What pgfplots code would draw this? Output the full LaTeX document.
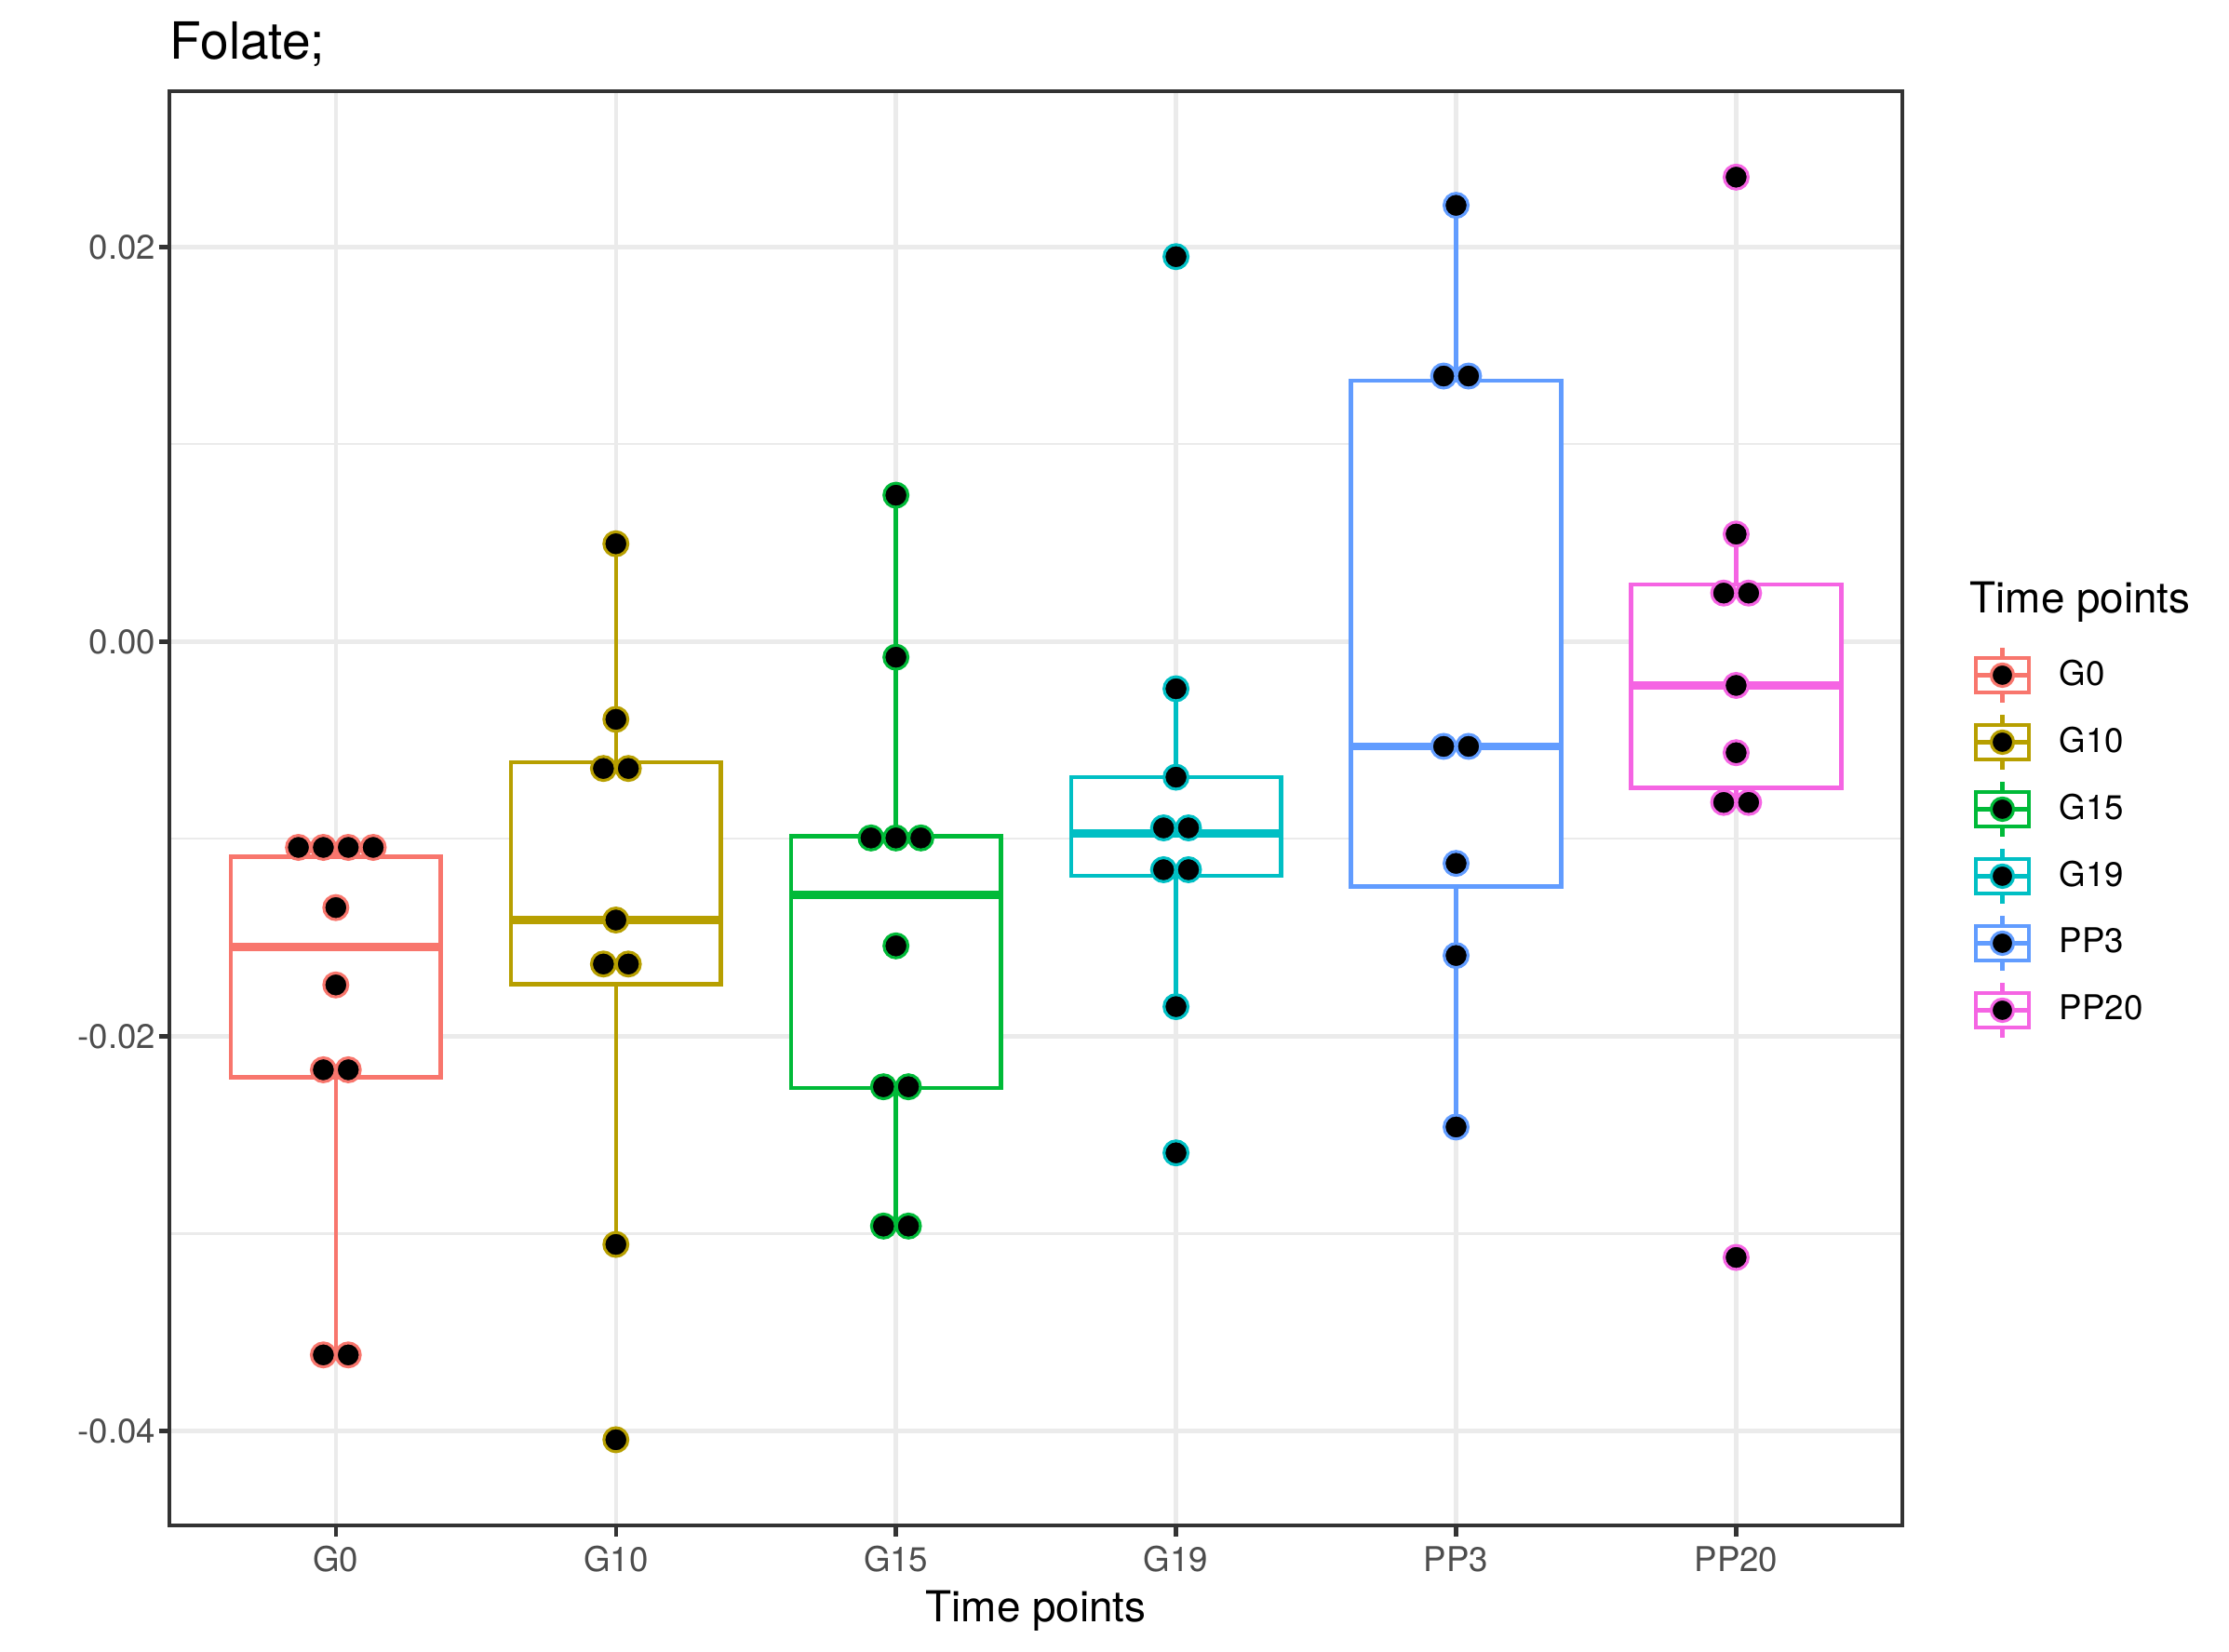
\documentclass[border=0pt]{standalone}
\usepackage{fontspec}
\setmainfont{TeX Gyre Heros}
\usepackage{pgfplots}
\pgfplotsset{compat=1.18}
\definecolor{c1}{HTML}{F8766D}
\definecolor{c2}{HTML}{B79F00}
\definecolor{c3}{HTML}{00BA38}
\definecolor{c4}{HTML}{00BFC4}
\definecolor{c5}{HTML}{619CFF}
\definecolor{c6}{HTML}{F564E3}
\definecolor{gridgray}{HTML}{EBEBEB}
\definecolor{grey20}{HTML}{333333}
\definecolor{grey30}{HTML}{4D4D4D}
\newcommand{\legbox}[1]{%
  \path[draw=none, fill=none] (0bp,-8.64bp) rectangle (17.28bp,8.64bp);
  \draw[#1, line width=1.07bp, fill=white] (1.84bp,-4.45bp) rectangle (15.44bp,4.45bp);
  \draw[#1, line width=1.07bp] (8.64bp,4.45bp)--(8.64bp,7bp) (8.64bp,-4.45bp)--(8.64bp,-7bp) (1.84bp,0bp)--(15.44bp,0bp);
  \draw[#1, fill=black, line width=0.75bp] (8.64bp,0bp) circle (2.9bp);
}
\pgfplotsset{
  bx/.style={draw=#1, line width=1.07bp, fill=white, forget plot, no marks, line join=miter},
  wh/.style={draw=#1, line width=1.07bp, forget plot, no marks},
  md/.style={draw=#1, line width=2.13bp, forget plot, no marks},
  dots/.style={only marks, mark=*, mark size=3.1bp, forget plot,
    mark options={draw=#1, fill=black, line width=0.75bp}}
}
\begin{document}
\begin{tikzpicture}
\useasboundingbox (0,0) rectangle (574.8bp,425.8bp);
\begin{axis}[
  at={(43.7bp,32.4bp)}, anchor=south west,
  width=446.9bp, height=369.9bp, scale only axis,
  xmin=0.406, xmax=6.594, ymin=-0.0448, ymax=0.0279,
  xtick={1,2,3,4,5,6}, xticklabels={G0,G10,G15,G19,PP3,PP20},
  ytick={-0.04,-0.02,0,0.02}, yticklabels={-0.04,-0.02,0.00,0.02},
  minor ytick={-0.03,-0.01,0.01},
  scaled y ticks=false,
  grid=both,
  major grid style={color=gridgray, line width=1.07bp},
  minor grid style={color=gridgray, line width=0.53bp},
  axis line style={color=grey20, line width=1.07bp},
  major tick style={color=grey20, line width=1.07bp},
  tick align=outside, major tick length=2.75bp, minor tick length=0pt,
  xtick pos=bottom, ytick pos=left,
  xticklabel style={font=\fontsize{8.8bp}{10bp}\selectfont, text=grey30, anchor=base, inner sep=0pt, yshift=-9.2bp},
  yticklabel style={font=\fontsize{8.8bp}{10bp}\selectfont, text=grey30, anchor=east, inner sep=0pt, xshift=-0.65bp},
  xlabel={Time points},
  xlabel style={font=\fontsize{11bp}{13bp}\selectfont, at={(axis description cs:0.5,0)}, anchor=base, inner sep=0pt, yshift=-24.7bp},
  title={Folate;},
  title style={font=\fontsize{13.2bp}{15bp}\selectfont, at={(axis description cs:0,1)}, anchor=base west, inner sep=0pt, yshift=2.2bp},
  legend style={at={(axis description cs:1.0383,0.6162)}, anchor=north west, draw=none, fill=none,
    inner sep=0pt, outer sep=0pt, row sep=0pt, column sep=6.1bp,
    font=\fontsize{8.8bp}{10bp}\selectfont, nodes={inner sep=0pt}},
  legend cell align=left,
]
% G0
\addplot[wh=c1] coordinates {(1,-0.01091) (1,-0.01043)};
\addplot[wh=c1] coordinates {(1,-0.02209) (1,-0.03615)};
\addplot[bx=c1] coordinates {(0.625,-0.02209) (1.375,-0.02209) (1.375,-0.01091) (0.625,-0.01091)} -- cycle;
\addplot[md=c1] coordinates {(0.625,-0.01546) (1.375,-0.01546)};
% G10
\addplot[wh=c2] coordinates {(2,-0.00611) (2,0.00496)};
\addplot[wh=c2] coordinates {(2,-0.01736) (2,-0.03055)};
\addplot[bx=c2] coordinates {(1.625,-0.01736) (2.375,-0.01736) (2.375,-0.00611) (1.625,-0.00611)} -- cycle;
\addplot[md=c2] coordinates {(1.625,-0.01411) (2.375,-0.01411)};
% G15
\addplot[wh=c3] coordinates {(3,-0.00987) (3,0.00742)};
\addplot[wh=c3] coordinates {(3,-0.02263) (3,-0.02962)};
\addplot[bx=c3] coordinates {(2.625,-0.02263) (3.375,-0.02263) (3.375,-0.00987) (2.625,-0.00987)} -- cycle;
\addplot[md=c3] coordinates {(2.625,-0.01283) (3.375,-0.01283)};
% G19
\addplot[wh=c4] coordinates {(4,-0.00687) (4,-0.00239)};
\addplot[wh=c4] coordinates {(4,-0.01188) (4,-0.01850)};
\addplot[bx=c4] coordinates {(3.625,-0.01188) (4.375,-0.01188) (4.375,-0.00687) (3.625,-0.00687)} -- cycle;
\addplot[md=c4] coordinates {(3.625,-0.00971) (4.375,-0.00971)};
% PP3
\addplot[wh=c5] coordinates {(5,0.01322) (5,0.02211)};
\addplot[wh=c5] coordinates {(5,-0.01240) (5,-0.02460)};
\addplot[bx=c5] coordinates {(4.625,-0.01240) (5.375,-0.01240) (5.375,0.01322) (4.625,0.01322)} -- cycle;
\addplot[md=c5] coordinates {(4.625,-0.00531) (5.375,-0.00531)};
% PP20
\addplot[wh=c6] coordinates {(6,0.00289) (6,0.00545)};
\addplot[wh=c6] coordinates {(6,-0.00742) (6,-0.00815)};
\addplot[bx=c6] coordinates {(5.625,-0.00742) (6.375,-0.00742) (6.375,0.00289) (5.625,0.00289)} -- cycle;
\addplot[md=c6] coordinates {(5.625,-0.00222) (6.375,-0.00222)};
% dots
\addplot[dots=c1] coordinates {(0.8665,-0.01043) (0.9555,-0.01043) (1.0445,-0.01043) (1.1335,-0.01043) (1,-0.01348) (1,-0.01740) (0.9555,-0.02170) (1.0445,-0.02170) (0.9555,-0.03615) (1.0445,-0.03615)};
\addplot[dots=c2] coordinates {(2,0.00496) (2,-0.00394) (1.9555,-0.00643) (2.0445,-0.00643) (2,-0.01411) (1.9555,-0.01634) (2.0445,-0.01634) (2,-0.03055) (2,-0.04045)};
\addplot[dots=c3] coordinates {(3,0.00742) (3,-0.00079) (2.911,-0.00995) (3,-0.00995) (3.089,-0.00995) (3,-0.01542) (2.9555,-0.02256) (3.0445,-0.02256) (2.9555,-0.02962) (3.0445,-0.02962)};
\addplot[dots=c4] coordinates {(4,0.01951) (4,-0.00239) (4,-0.00687) (3.9555,-0.00944) (4.0445,-0.00944) (3.9555,-0.01156) (4.0445,-0.01156) (4,-0.01850) (4,-0.02591)};
\addplot[dots=c5] coordinates {(5,0.02211) (4.9555,0.01346) (5.0445,0.01346) (4.9555,-0.00531) (5.0445,-0.00531) (5,-0.01124) (5,-0.01591) (5,-0.02460)};
\addplot[dots=c6] coordinates {(6,0.02354) (6,0.00545) (5.9555,0.00246) (6.0445,0.00246) (6,-0.00222) (6,-0.00563) (5.9555,-0.00815) (6.0445,-0.00815) (6,-0.03121)};
% legend
\addlegendimage{legend image code/.code={\legbox{c1}}}\addlegendentry{G0}
\addlegendimage{legend image code/.code={\legbox{c2}}}\addlegendentry{G10}
\addlegendimage{legend image code/.code={\legbox{c3}}}\addlegendentry{G15}
\addlegendimage{legend image code/.code={\legbox{c4}}}\addlegendentry{G19}
\addlegendimage{legend image code/.code={\legbox{c5}}}\addlegendentry{PP3}
\addlegendimage{legend image code/.code={\legbox{c6}}}\addlegendentry{PP20}
\end{axis}
\node[anchor=base west, inner sep=0pt, font=\fontsize{11bp}{13bp}\selectfont] at (507.8bp,267.7bp) {Time points};
\end{tikzpicture}
\end{document}
